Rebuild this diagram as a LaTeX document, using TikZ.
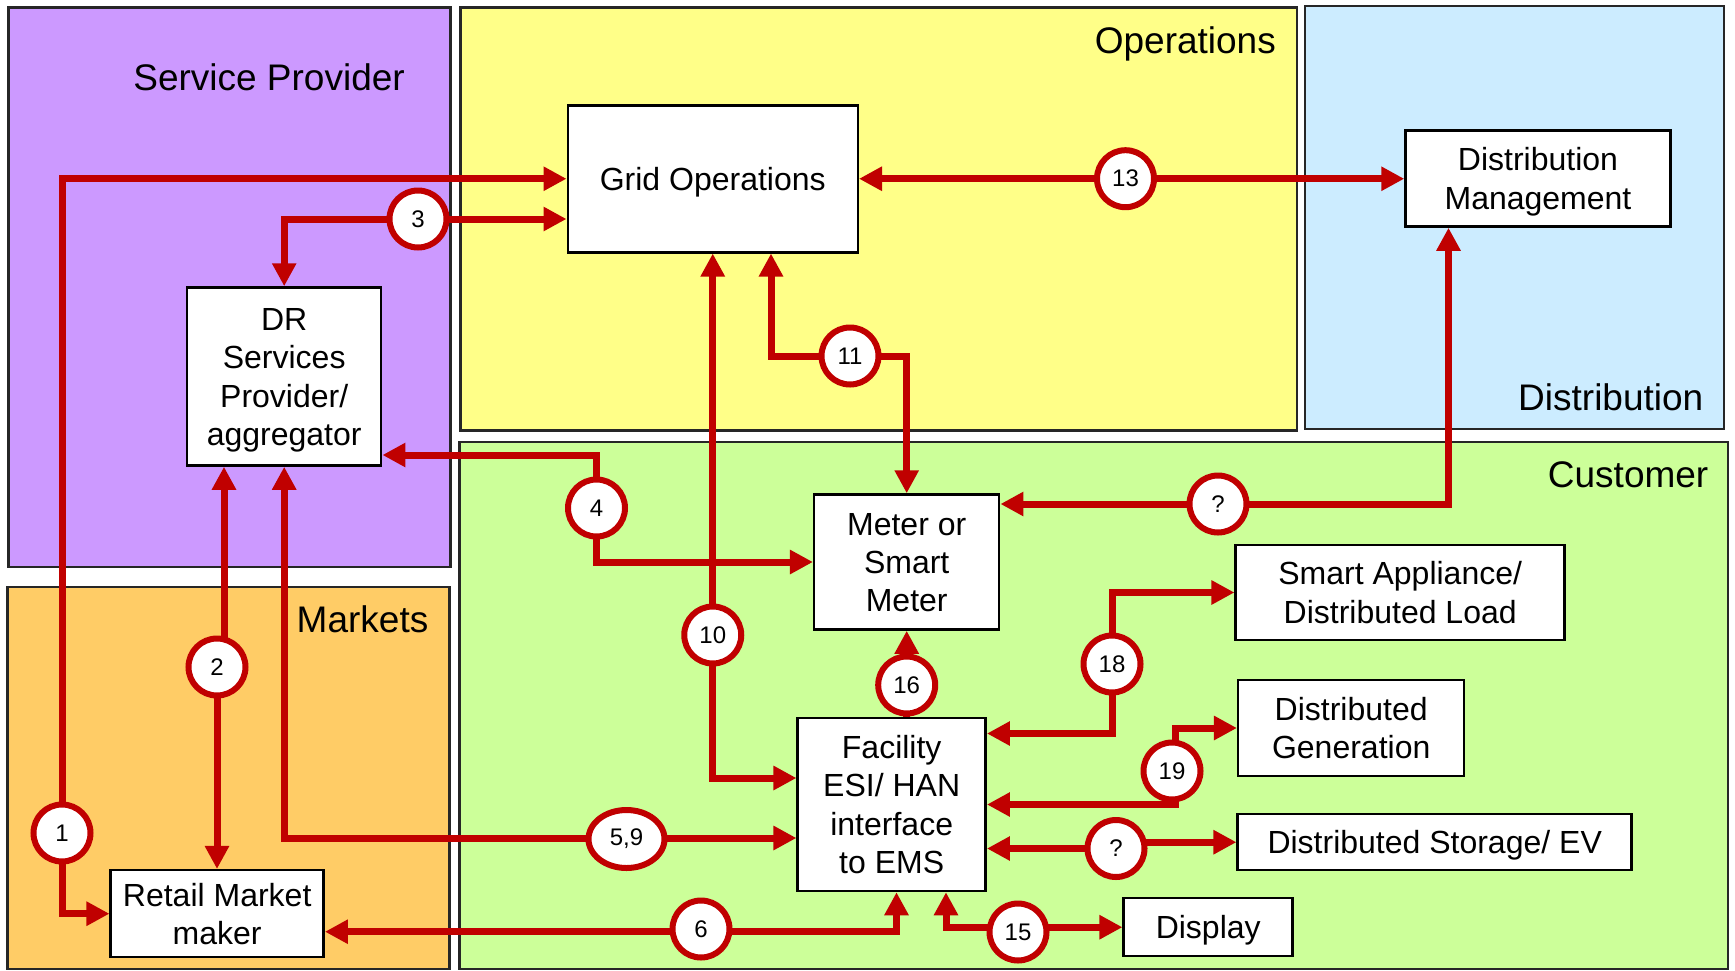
\documentclass[tikz,border=0pt]{standalone}
\usepackage{fontspec}
\setmainfont{Liberation Sans}
\usetikzlibrary{arrows.meta,shapes.geometric,calc}
\definecolor{spcol}{HTML}{CC99FF}
\definecolor{opcol}{HTML}{FFFF88}
\definecolor{dicol}{HTML}{CCECFF}
\definecolor{cucol}{HTML}{CCFF99}
\definecolor{mkcol}{HTML}{FFCC66}
\definecolor{linkred}{HTML}{C00000}
\pgfdeclarelayer{bg}
\pgfdeclarelayer{lines}
\pgfsetlayers{bg,lines,main}
\begin{document}
\begin{tikzpicture}[x=1pt,y=-1pt,
  >={Triangle[length=23pt,width=23pt]},
  region/.style={draw=black!85,line width=2.5pt},
  rlabel/.style={anchor=base east,inner sep=0pt,font=\fontsize{37}{44}\selectfont},
  box/.style={draw=black,line width=2.5pt,fill=white,align=center,inner sep=0pt,text depth=0pt,font=\fontsize{32}{38.3}\selectfont},
  lone/.style={text height=23pt},
  ltwo/.style={text height=61.3pt},
  lthree/.style={text height=99.6pt},
  lfour/.style={text height=137.9pt},
  num/.style={circle,draw=linkred,line width=6pt,fill=white,minimum size=57pt,inner sep=0pt,font=\fontsize{24}{28}\selectfont},
  numwide/.style={ellipse,draw=linkred,line width=6pt,fill=white,minimum width=76pt,minimum height=58pt,inner sep=0pt,font=\fontsize{24}{28}\selectfont},
  link/.style={draw=linkred,line width=7pt}]
\useasboundingbox (0,0) rectangle (1735,970);
\begin{pgfonlayer}{bg}
\fill[white] (0,0) rectangle (1735,970);
\filldraw[region,fill=spcol] (8.5,7.5) rectangle (450.5,567);
\filldraw[region,fill=mkcol] (7.5,587) rectangle (449.5,969);
\filldraw[region,fill=opcol] (460.5,7.5) rectangle (1297,430.5);
\filldraw[region,fill=dicol] (1305,6) rectangle (1724,429);
\filldraw[region,fill=cucol] (459.5,442) rectangle (1728,969);
\node[rlabel] (lsp) at (405,90.5) {Service Provider};
\node[rlabel] (lop) at (1276,53.5) {Operations};
\node[rlabel] (ldi) at (1703.5,410) {Distribution};
\node[rlabel] (lcu) at (1708.5,487) {Customer};
\node[rlabel] (lmk) at (428.5,632.5) {Markets};
\end{pgfonlayer}

% boxes
\node[box,lone,minimum width=290pt,minimum height=147pt] (grid) at (712.75,178.75) {Grid Operations};
\node[box,ltwo,minimum width=265pt,minimum height=96pt] (dm) at (1538,178.5) {Distribution\\Management};
\node[box,lfour,minimum width=194pt,minimum height=178pt] (dr) at (284.2,376.5) {DR\\Services\\Provider/\\aggregator};
\node[box,ltwo,minimum width=213pt,minimum height=87pt] (rmm) at (217.2,913.7) {Retail Market\\maker};
\node[box,lthree,minimum width=185pt,minimum height=135pt] (meter) at (906.7,562) {Meter or\\Smart\\Meter};
\node[box,lfour,minimum width=188pt,minimum height=173pt] (fac) at (891.7,804.5) {Facility\\ESI/ HAN\\interface\\to EMS};
\node[box,ltwo,minimum width=329pt,minimum height=95pt] (sa) at (1400.2,592.5) {Smart Appliance/\\Distributed Load};
\node[box,ltwo,minimum width=226pt,minimum height=96pt] (dg) at (1351.2,728) {Distributed\\Generation};
\node[box,lone,minimum width=394pt,minimum height=56pt] (ds) at (1434.7,842.2) {Distributed Storage/ EV};
\node[box,lone,minimum width=169pt,minimum height=58pt] (disp) at (1208.2,927.2) {Display};

% numbered circles
\node[num] (c1) at (62,833) {1};
\node[num] (c2) at (217,667) {2};
\node[num] (c3) at (418,219) {3};
\node[num] (c4) at (596.5,508) {4};
\node[numwide] (c59) at (626.5,839) {5,9};
\node[num] (c6) at (701,929) {6};
\node[num] (c10) at (712.75,635) {10};
\node[num] (c11) at (850,356) {11};
\node[num] (c13) at (1125.5,178.7) {13};
\node[num] (cq1) at (1218,504) {?};
\node[num] (c16) at (906.7,685) {16};
\node[num] (c18) at (1112,664) {18};
\node[num] (c19) at (1172,771) {19};
\node[num] (cq2) at (1116,848.5) {?};
\node[num] (c15) at (1018,932) {15};
\coordinate (k19) at (1175,771);

\begin{pgfonlayer}{lines}
% 1
\draw[link,<->] (grid.west) -| (c1.center) |- (rmm.west);
% 3
\draw[link,<->] (grid.west |- c3.center) -- (c3.center) -| (dr.north);
% 2
\draw[link,->] ([xshift=7pt]c2.center) -- ([xshift=7pt]c2.center |- dr.south);
\draw[link,->] (c2.center) -- (c2.center |- rmm.north);
% 4
\draw[link,<->] ([yshift=-78.5pt]dr.east) -| (c4.center) |- (meter.west);
% 5,9
\draw[link,<->] (dr.south) |- ([yshift=-33.5pt]fac.west);
% 10
\draw[link,<->] (grid.south) |- ([yshift=26.5pt]fac.west);
% 11
\draw[link,<->] ([xshift=58.25pt]grid.south) |- (c11.center) -| (meter.north);
% 13
\draw[link,<->] (grid.east) -- (grid.east -| dm.west);
% ? (distribution)
\draw[link,<->] ([xshift=-89.5pt]dm.south) |- (meter.east |- cq1.center);
% 16
\draw[link,->] (fac.north -| meter.south) -- (meter.south);
% 18
\draw[link,<->] ([yshift=71pt]fac.east) -| (c18.center) |- (sa.west);
% 19
\draw[link,<->] (fac.east) -| (k19) |- (dg.west);
% ? (storage)
\draw[link,<-] (fac.east |- cq2.center) -- (cq2.center);
\draw[link,->] (cq2.center |- ds.west) -- (ds.west);
% 15
\draw[link,<->] ([xshift=54.3pt]fac.south) |- (disp.west);
% 6
\draw[link,<->] ([yshift=-18pt]rmm.east) -| ([xshift=4.8pt]fac.south);
\end{pgfonlayer}
\end{tikzpicture}
\end{document}
